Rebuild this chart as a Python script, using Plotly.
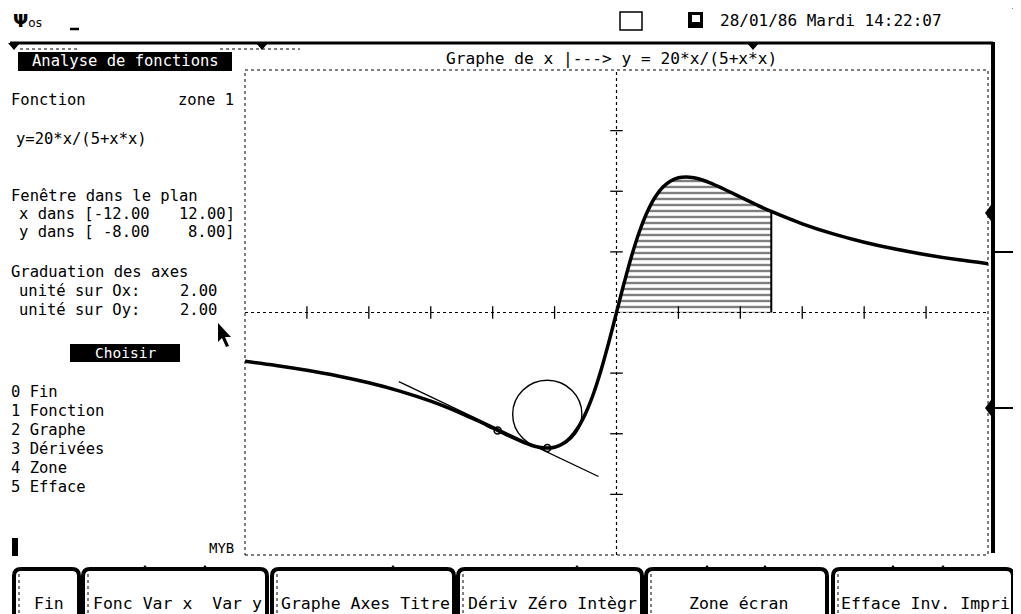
import plotly.graph_objects as go

# ---------------- data ----------------
curve_x_pos = [0, 0.25, 0.5, 0.75, 1, 1.25, 1.5, 1.75, 2, 2.25, 2.5, 2.75, 3, 3.5, 4, 4.5, 5,
               6, 7, 8, 9, 10, 11, 12]
curve_y_pos = [0, 0.988, 1.905, 2.697, 3.333, 3.810, 4.138, 4.341, 4.444, 4.472, 4.444, 4.378,
               4.286, 4.058, 3.810, 3.564, 3.333, 2.927, 2.593, 2.319, 2.093, 1.905, 1.746, 1.611]
curve_x = [-v for v in curve_x_pos[::-1]][:-1] + curve_x_pos
curve_y = [-v for v in curve_y_pos[::-1]][:-1] + curve_y_pos

zone_x0, zone_x1 = 0, 5
x_window = [-12, 12]
y_window = [-8, 8]
x_ticks = [-10, -8, -6, -4, -2, 2, 4, 6, 8, 10]
y_ticks = [-6, -4, -2, 2, 4, 6]

tangent_x = [-7.03, -0.58]
tangent_y = [-2.28, -5.41]
tangent_pt = (-3.84, -3.89)
min_pt = (-2.236, -4.472)
osc_center = (-2.236, -3.354)
osc_radius = 1.118

menu_items = ["0 Fin", "1 Fonction", "2 Graphe", "3 Dérivées", "4 Zone", "5 Efface"]
buttons = ["Fin", "Fonc Var x\u00a0\u00a0Var y", "Graphe Axes Titre", "Dériv Zéro Intègr",
           "Zone écran", "Efface Inv. Impri"]

# ---------------- layout helpers ----------------
# the page body has an 8px margin: figure pixel = screen pixel - 8
OFF = 8
W, H = 1021 - OFF, 614 - OFF
MONO = "DejaVu Sans Mono"


def px(x):
    return (x - OFF) / W


def py(y):
    return 1 - (y - OFF) / H


PL, PR, PT, PB = 245, 988, 70, 555

fig = go.Figure()

# hatched integral zone
zx = [x for x in curve_x if zone_x0 <= x <= zone_x1]
zy = [y for x, y in zip(curve_x, curve_y) if zone_x0 <= x <= zone_x1]
fig.add_trace(go.Scatter(x=zx, y=zy, mode="lines", line=dict(width=0, shape="spline"),
                         fill="tozeroy", fillcolor="white",
                         fillpattern=dict(shape="-", fgcolor="black", bgcolor="white",
                                          size=6, solidity=0.4),
                         hoverinfo="skip", showlegend=False))
fig.add_trace(go.Scatter(x=[zone_x1, zone_x1], y=[0, zy[-1]], mode="lines",
                         line=dict(color="black", width=2), showlegend=False))

# axes (dotted) and ticks
fig.add_trace(go.Scatter(x=x_window, y=[0, 0], mode="lines",
                         line=dict(color="black", width=1, dash="dot"), showlegend=False))
fig.add_trace(go.Scatter(x=[0, 0], y=y_window, mode="lines",
                         line=dict(color="black", width=1.2, dash="dot"), showlegend=False))
fig.add_trace(go.Scatter(x=x_ticks, y=[0] * len(x_ticks), mode="markers",
                         marker=dict(symbol="line-ns", size=9, line=dict(color="black", width=1.3)),
                         showlegend=False))
fig.add_trace(go.Scatter(x=[0] * len(y_ticks), y=y_ticks, mode="markers",
                         marker=dict(symbol="line-ew", size=9, line=dict(color="black", width=1.3)),
                         showlegend=False))

# tangent
fig.add_trace(go.Scatter(x=tangent_x, y=tangent_y, mode="lines",
                         line=dict(color="black", width=1.3), showlegend=False))

# curve
fig.add_trace(go.Scatter(x=curve_x, y=curve_y, mode="lines",
                         line=dict(color="black", width=3.5, shape="spline"), showlegend=False))

# marked points
fig.add_trace(go.Scatter(x=[tangent_pt[0], min_pt[0]], y=[tangent_pt[1], min_pt[1]], mode="markers",
                         marker=dict(symbol="circle-open", size=7, color="black",
                                     line=dict(width=1.5)), showlegend=False))

shapes = []
# osculating circle
shapes.append(dict(type="circle", xref="x", yref="y",
                   x0=osc_center[0] - osc_radius, x1=osc_center[0] + osc_radius,
                   y0=osc_center[1] - osc_radius, y1=osc_center[1] + osc_radius,
                   line=dict(color="black", width=1.4)))

# plot frame
shapes.append(dict(type="rect", xref="paper", yref="paper", x0=px(PL), x1=px(PR), y0=py(PB), y1=py(PT),
                   line=dict(color="black", width=1, dash="dot")))


def line(x0, y0, x1, y1, w=2, dash="solid"):
    shapes.append(dict(type="line", xref="paper", yref="paper", x0=px(x0), y0=py(y0), x1=px(x1),
                       y1=py(y1), line=dict(color="black", width=w, dash=dash)))


def rect(x0, y0, x1, y1, fill="black", lw=0, lc="black"):
    shapes.append(dict(type="rect", xref="paper", yref="paper", x0=px(x0), y0=py(y0), x1=px(x1),
                       y1=py(y1), fillcolor=fill, line=dict(color=lc, width=lw)))


def path(pts, fill="black", lw=0):
    d = "M " + " L ".join(f"{px(a):.5f},{py(b):.5f}" for a, b in pts) + " Z"
    shapes.append(dict(type="path", xref="paper", yref="paper", path=d,
                       fillcolor=fill, line=dict(color="black", width=lw)))


# top bar
line(10, 43, 993, 43, 3)
for tx in [14, 262, 753]:
    path([(tx - 6, 43), (tx + 6, 43), (tx, 50)])
line(20, 49, 80, 49, 1, "dot")
line(220, 49, 300, 49, 1, "dot")
line(993, 42, 993, 553, 4)
line(993, 252, 1021, 252, 2)
line(993, 408, 1021, 408, 2)
path([(991, 205), (991, 221), (985, 213)])
path([(991, 400), (991, 416), (985, 408)])
line(1012, 8, 1018, 8, 1)

# cursor underscore near Psi
line(70, 29, 79, 29, 2.5)
# checkbox and disk icon
rect(620, 12, 642, 30, fill="white", lw=1.5)
rect(688, 12, 703, 28)
rect(692, 15, 700, 22, fill="white")

# left panel black boxes
rect(18, 52, 232, 71)
rect(70, 344, 180, 362)
# text cursor block
rect(12, 538, 18, 556)
# mouse pointer
path([(218, 323), (218, 342), (222, 338), (226, 347), (229, 346), (225, 337), (231, 337)])

# bottom buttons
btn_x = [(14, 79), (83, 267), (272, 454), (458, 642), (646, 827), (833, 1013)]
for (x0, x1) in btn_x:
    d = (f"M {px(x0):.5f},{py(618):.5f} L {px(x0):.5f},{py(576):.5f} "
         f"Q {px(x0):.5f},{py(569):.5f} {px(x0 + 7):.5f},{py(569):.5f} "
         f"L {px(x1 - 7):.5f},{py(569):.5f} Q {px(x1):.5f},{py(569):.5f} {px(x1):.5f},{py(576):.5f} "
         f"L {px(x1):.5f},{py(618):.5f}")
    shapes.append(dict(type="path", xref="paper", yref="paper", path=d,
                       line=dict(color="black", width=4)))
    line(x0 + 5, 574, x0 + 5, 614, 1, "dot")
for nx in [145, 205, 393, 577, 707, 765, 893, 943]:
    path([(nx - 4, 570), (nx + 4, 570), (nx, 565)])

annotations = []


def txt(x, y, s, anchor="left", size=15.5, color="black", family=MONO):
    annotations.append(dict(x=px(x), y=py(y), xref="paper", yref="paper", text=s, showarrow=False,
                            xanchor=anchor, yanchor="middle",
                            font=dict(family=family, size=size, color=color)))


txt(11, 20, "<b>Ψ</b><span style='font-size:12px'>os</span>", size=18, family="DejaVu Sans")
txt(718, 20, "28/01/86 Mardi 14:22:07", size=16)
txt(125, 61, "Analyse de fonctions", anchor="center", size=15.5, color="white")
txt(444, 58, "Graphe de x |---> y = 20*x/(5+x*x)", size=16.2)

txt(9, 100, "Fonction")
txt(236, 100, "zone 1", anchor="right")
txt(14, 139, "y=20*x/(5+x*x)")
txt(9, 196, "Fenêtre dans le plan")
txt(17, 214, "x dans [-12.00")
txt(237, 214, "12.00]", anchor="right")
txt(17, 232, "y dans [ -8.00")
txt(237, 232, "8.00]", anchor="right")
txt(9, 272, "Graduation des axes")
txt(17, 291, "unité sur Ox:")
txt(219, 291, "2.00", anchor="right")
txt(17, 310, "unité sur Oy:")
txt(219, 310, "2.00", anchor="right")
txt(125, 353, "Choisir", anchor="center", size=14.5, color="white")
for i, item in enumerate(menu_items):
    txt(9, 392 + 19 * i, item)
txt(236, 548, "MYB", anchor="right", size=14)

btn_centers = [(a + b) / 2 for a, b in btn_x]
for c, s in zip(btn_centers, buttons):
    txt(c + 2, 603, s, anchor="center", size=16.5)

fig.update_layout(
    width=W, height=H, autosize=False,
    margin=dict(l=0, r=0, t=0, b=0, pad=0),
    paper_bgcolor="white", plot_bgcolor="white",
    showlegend=False,
    xaxis=dict(domain=[px(PL), px(PR)], range=x_window, visible=False, fixedrange=True),
    yaxis=dict(domain=[py(PB), py(PT)], range=y_window, visible=False, fixedrange=True),
    shapes=shapes, annotations=annotations,
)

fig.write_html("out.html")
